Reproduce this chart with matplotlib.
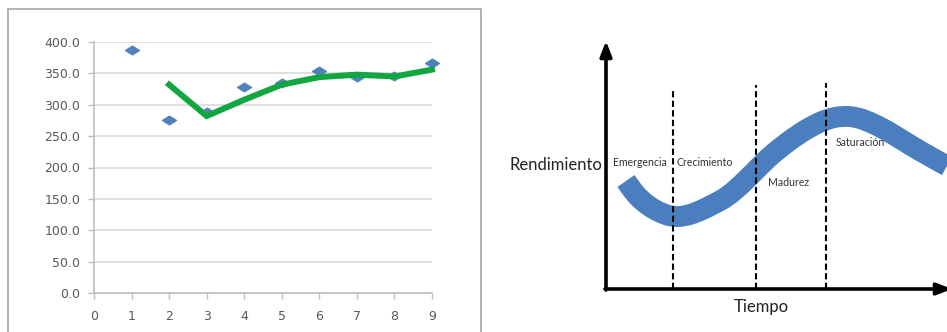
import matplotlib
matplotlib.use("Agg")
import matplotlib.pyplot as plt
from matplotlib.patches import Rectangle, PathPatch
from matplotlib.path import Path

# ---------------- data ----------------
periods = [1, 2, 3, 4, 5, 6, 7, 8, 9]
values = [388, 276, 288, 328, 335, 353, 344, 346, 367]
ma_periods = [2, 3, 4, 5, 6, 7, 8, 9]
ma_values = [332, 282, 308, 332, 344, 348, 345, 356]
y_ticks = [0, 50, 100, 150, 200, 250, 300, 350, 400]
x_ticks = [0, 1, 2, 3, 4, 5, 6, 7, 8, 9]

curve_t = [20, 27, 34, 44, 55, 67, 80, 94, 108, 121, 135, 150, 162, 174, 187,
           204, 221, 236, 250, 264, 280, 296, 314, 341]
curve_p = [108, 98, 90, 82, 76, 72, 73, 78, 85, 92, 104, 119, 131, 141, 151,
           162, 170, 173, 172, 167, 159, 149, 138, 123]
phase_bounds = [67, 150, 220]
phase_tops = [201, 204, 206]
phase_names = ["Emergencia", "Crecimiento", "Madurez", "Saturación"]
phase_label_t = [34, 99, 183, 254]
phase_label_p = [126, 126, 107, 147]

W, H = 947, 332
fig = plt.figure(figsize=(W / 100, H / 100), dpi=100)

# ---------------- left panel ----------------
fig.patches.append(Rectangle((8 / W, -0.05), (481 - 8) / W, (H - 9) / H + 0.05,
                             transform=fig.transFigure, fill=False,
                             edgecolor="#a6a6a6", linewidth=1.2))
ax = fig.add_axes([94 / W, (H - 293) / H, (432 - 94) / W, (293 - 42) / H])
ax.set_xlim(0, 9)
ax.set_ylim(0, 400)
ax.set_yticks(y_ticks)
ax.set_yticklabels([f"{v:.1f}" for v in y_ticks])
ax.set_xticks(x_ticks)
ax.grid(axis="y", color="#d9d9d9", linewidth=1.2)
ax.set_axisbelow(True)
for s in ["top", "right"]:
    ax.spines[s].set_visible(False)
for s in ["left", "bottom"]:
    ax.spines[s].set_color("#bfbfbf")
    ax.spines[s].set_linewidth(1.2)
ax.tick_params(axis="both", colors="#bfbfbf", labelcolor="#595959",
               labelsize=9, direction="out", length=4, width=1)
ax.tick_params(axis="x", pad=8)
ax.tick_params(axis="y", pad=6)
diamond = [(-1, 0), (0, 0.62), (1, 0), (0, -0.62), (-1, 0)]
ax.plot(periods, values, linestyle="none", marker=diamond, markersize=10,
        color="#4f81bd", clip_on=False, zorder=3)
ax.plot(ma_periods, ma_values, color="#12a640", linewidth=4.3,
        solid_joinstyle="miter", clip_on=False, zorder=4)

# ---------------- right panel ----------------
ax2 = fig.add_axes([606 / W, (H - 289) / H, (W - 606) / W, (289 - 43) / H])
ax2.set_xlim(0, W - 606)
ax2.set_ylim(0, 289 - 43)
ax2.axis("off")

# smooth path through the read points (quadratic Bezier with midpoints)
pts = list(zip(curve_t, curve_p))
verts = [pts[0]]
codes = [Path.MOVETO]
mid = lambda a, b: ((a[0] + b[0]) / 2, (a[1] + b[1]) / 2)
verts.append(mid(pts[0], pts[1])); codes.append(Path.LINETO)
for i in range(1, len(pts) - 1):
    verts += [pts[i], mid(pts[i], pts[i + 1])]
    codes += [Path.CURVE3, Path.CURVE3]
verts.append(pts[-1]); codes.append(Path.LINETO)
ax2.add_patch(PathPatch(Path(verts, codes), fill=False, edgecolor="#4a7ebf",
                        linewidth=15, capstyle="butt", joinstyle="round",
                        clip_on=False, zorder=2))

ax2.vlines(phase_bounds, 0, phase_tops, colors="black", linestyles=(0, (3, 1.6)),
           linewidth=1.5, zorder=3)

ax2.annotate("", xy=(0, 248), xytext=(0, -1),
             arrowprops=dict(arrowstyle="-|>,head_length=0.9,head_width=0.35",
                             color="black", lw=2.6, shrinkA=0, shrinkB=0),
             annotation_clip=False)
ax2.annotate("", xy=(346, 0), xytext=(-1, 0),
             arrowprops=dict(arrowstyle="-|>,head_length=0.9,head_width=0.35",
                             color="black", lw=2.6, shrinkA=0, shrinkB=0),
             annotation_clip=False)

for name, t, p in zip(phase_names, phase_label_t, phase_label_p):
    ax2.text(t, p, name, ha="center", va="center", fontsize=7.6,
             family="Lato", color="#333333", zorder=4)
ax2.text(-50, 124, "Rendimiento", ha="center", va="center", fontsize=12,
         family="Lato", color="#222222")
ax2.text(155, -18, "Tiempo", ha="center", va="center", fontsize=12,
         family="Lato", color="#222222")

fig.savefig("out.png", dpi=100)
